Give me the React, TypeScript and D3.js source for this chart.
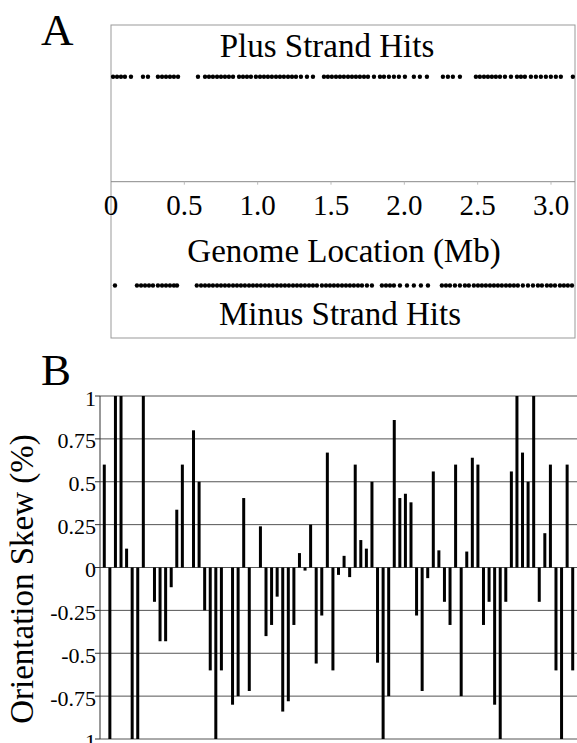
import React from "react";
import * as d3 from "d3";

// Panel A: hit positions along the genome (Mb)
const plusHits: number[] = [
  0.014, 0.041, 0.068, 0.095, 0.136,
  0.218, 0.252,
  0.320, 0.348, 0.375, 0.402, 0.429, 0.457,
  0.593, 0.641, 0.668, 0.695, 0.723, 0.750, 0.777, 0.804, 0.832,
  0.873, 0.900, 0.927, 0.954, 0.988, 1.016, 1.043, 1.070, 1.097, 1.125, 1.152, 1.179, 1.207, 1.234, 1.261,
  1.295, 1.336, 1.377,
  1.452, 1.479, 1.506, 1.534, 1.561, 1.588, 1.616, 1.643, 1.670,
  1.697, 1.725, 1.752, 1.793,
  1.834, 1.861, 1.895, 1.929,
  1.963, 2.004,
  2.065, 2.106, 2.154,
  2.263, 2.297, 2.331, 2.379,
  2.488, 2.515, 2.543, 2.570, 2.597, 2.624, 2.652, 2.686,
  2.727,
  2.768, 2.795, 2.822,
  2.863,
  2.897, 2.931, 2.965, 2.999, 3.033, 3.067,
  3.149,
];

const minusHits: number[] = [
  0.027,
  0.177, 0.205, 0.232, 0.259, 0.286, 0.320, 0.348, 0.375, 0.402, 0.429, 0.450,
  0.585,
  0.614, 0.641, 0.668, 0.695, 0.723, 0.750, 0.777, 0.804, 0.832, 0.859,
  0.886, 0.913, 0.941, 0.968, 0.995, 1.022, 1.050, 1.077, 1.104, 1.132,
  1.159, 1.186, 1.213, 1.241, 1.268, 1.295, 1.322, 1.350, 1.377, 1.404,
  1.438, 1.466, 1.493, 1.520, 1.547, 1.575, 1.602, 1.629, 1.656, 1.684,
  1.711, 1.745, 1.779,
  1.847, 1.875, 1.902, 1.929,
  1.970, 2.018, 2.065, 2.113, 2.161,
  2.256, 2.284, 2.311, 2.345, 2.379, 2.413, 2.440,
  2.474, 2.502, 2.529, 2.556, 2.584, 2.611, 2.638, 2.665, 2.693,
  2.720, 2.747, 2.774, 2.808, 2.843, 2.877, 2.911, 2.938,
  2.972, 2.999, 3.027, 3.061,
  3.088, 3.115, 3.143,
];

const mbTicks: number[] = [0, 0.5, 1.0, 1.5, 2.0, 2.5, 3.0];
const mbTickLabels: string[] = ["0", "0.5", "1.0", "1.5", "2.0", "2.5", "3.0"];

// Panel B: orientation skew per genome window
const skewValues: number[] = [
  0.6, -1, 1, 1, 0.11, -1, -1, 1, 0, -0.2,
  -0.43, -0.43, -0.115, 0.337, 0.6, 0, 0.8, 0.5, -0.25, -0.6,
  -1, -0.6, 0, -0.8, -0.75, 0.405, -0.72, 0, 0.24, -0.4,
  -0.335, -0.17, -0.84, -0.78, -0.335, 0.084, -0.018, 0.25, -0.56, -0.28,
  0.67, -0.6, -0.043, 0.068, -0.056, 0.6, 0.16, 0.11, 0.5, -0.555,
  -1, -0.75, 0.86, 0.405, 0.43, 0.38, -0.28, -0.72, -0.062, 0.56,
  0.1, -0.2, -0.335, 0.6, -0.75, 0.093, 0.64, 0.6, -0.335, -0.2,
  -0.8, -1, -0.2, 0.56, 1, 0.67, 0.5, 1, -0.2, 0.2,
  0.6, -0.6, -1, 0.6, -0.6,
];
const skewTicks: number[] = [1, 0.75, 0.5, 0.25, 0, -0.25, -0.5, -0.75, -1];
const skewTickLabels: string[] = ["1", "0.75", "0.5", "0.25", "0", "-0.25", "-0.5", "-0.75", "-1"];

function T(props: any) {
  const { children, ...rest } = props;
  return (
    <text {...rest} fill="#000" style={{ fontFamily: `"Liberation Serif"` }}>
      {children}
    </text>
  );
}

export default function App() {
  const W = 577;
  const H = 743;

  // Panel A layout
  const aLeft = 111;
  const aRight = 575;
  const aTop = 25;
  const aBottom = 338;
  const axisY = 181.7;
  const plusY = 76.7;
  const minusY = 285.5;
  const x = d3.scaleLinear().domain([0, 3.0]).range([aLeft, 551]);

  // Panel B layout
  const bLeft = 100;
  const bRight = 577;
  const y = d3.scaleLinear().domain([-1, 1]).range([739, 396]);
  const xb = d3
    .scaleBand<number>()
    .domain(d3.range(skewValues.length))
    .range([101.5, 575.5])
    .padding(0);
  const barW = 3;

  return (
    <svg width={W} height={H} style={{ position: "absolute", left: 0, top: 0 }}>
      <rect x={0} y={0} width={W} height={H} fill="#fff" />

      {/* Panel A */}
      <T x={41} y={45} fontSize={45}>A</T>
      <rect
        x={aLeft}
        y={aTop}
        width={aRight - aLeft}
        height={aBottom - aTop}
        fill="none"
        stroke="#999"
        strokeWidth={1}
      />
      <line x1={aLeft} x2={aRight} y1={axisY} y2={axisY} stroke="#888" strokeWidth={1} />
      {mbTicks.map((t, i) => (
        <g key={"mt" + i}>
          {i > 0 && (
            <line x1={x(t)} x2={x(t)} y1={axisY} y2={axisY + 3} stroke="#bbb" strokeWidth={1} />
          )}
          <T x={x(t)} y={215} fontSize={29} textAnchor="middle">
            {mbTickLabels[i]}
          </T>
        </g>
      ))}
      <T x={327} y={57} fontSize={33} textAnchor="middle">Plus Strand Hits</T>
      <T x={344} y={262} fontSize={33} textAnchor="middle">Genome Location (Mb)</T>
      <T x={340} y={325} fontSize={33} textAnchor="middle">Minus Strand Hits</T>
      {plusHits.map((d, i) => (
        <circle key={"p" + i} cx={x(d)} cy={plusY} r={2.2} fill="#000" />
      ))}
      {minusHits.map((d, i) => (
        <circle key={"m" + i} cx={x(d)} cy={minusY} r={2.2} fill="#000" />
      ))}

      {/* Panel B */}
      <T x={41} y={385} fontSize={45}>B</T>
      {skewTicks.map((t, i) => (
        <g key={"st" + i}>
          <line x1={bLeft} x2={bRight} y1={y(t)} y2={y(t)} stroke="#555" strokeWidth={1} />
          <line x1={bLeft - 5} x2={bLeft} y1={y(t)} y2={y(t)} stroke="#333" strokeWidth={1} />
          <T x={bLeft - 4} y={y(t) + 2} fontSize={22} textAnchor="end" dominantBaseline="central">
            {skewTickLabels[i]}
          </T>
        </g>
      ))}
      <line x1={bLeft} x2={bLeft} y1={y(1)} y2={y(-1)} stroke="#333" strokeWidth={1} />
      {skewValues.map((v, i) => {
        const cx = (xb(i) as number) + xb.bandwidth() / 2;
        const y0 = y(0);
        const yv = y(v);
        return (
          <rect
            key={"b" + i}
            x={cx - barW / 2}
            y={Math.min(y0, yv)}
            width={barW}
            height={Math.abs(yv - y0)}
            fill="#000"
          />
        );
      })}
      <T transform={`translate(33, 579) rotate(-90)`} fontSize={33} textAnchor="middle">
        Orientation Skew (%)
      </T>
    </svg>
  );
}
